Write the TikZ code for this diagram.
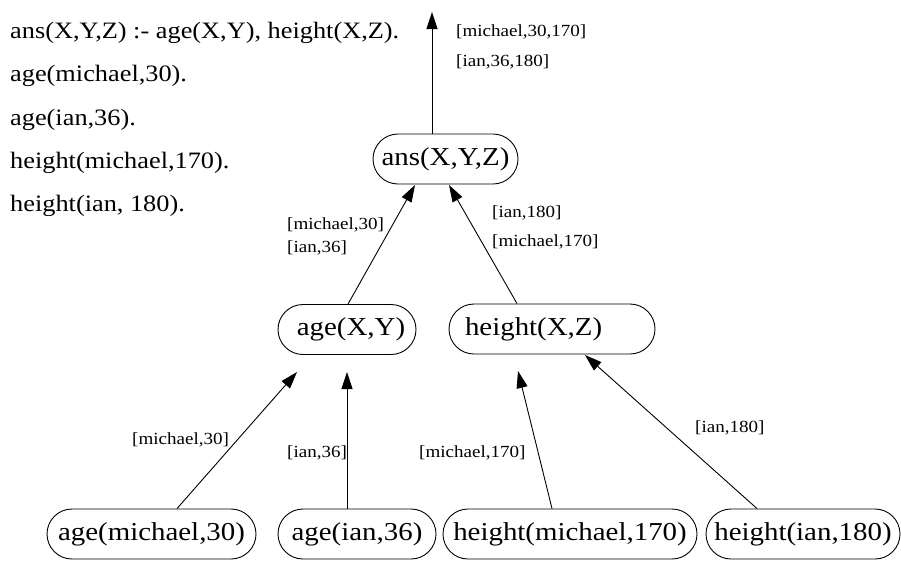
\documentclass[tikz,border=0pt]{standalone}
\usepackage{fontspec}
\setmainfont{Liberation Serif}[FakeStretch=1.12]
\usetikzlibrary{arrows.meta}
\begin{document}
\begin{tikzpicture}[x=1pt,y=-1pt,
  every node/.style={font=\fontsize{25.8}{28}\selectfont},
  pred/.style={draw, line width=0.9pt, rounded corners=25pt, minimum height=50pt, inner xsep=0pt, inner ysep=0pt},
  lbl/.style={font=\fontsize{17}{19}\selectfont, anchor=west, inner sep=0pt},
  prog/.style={font=\fontsize{23.5}{26}\selectfont, anchor=base west, inner sep=0pt},
  arr/.style={line width=0.9pt, -{Triangle[length=17pt,width=11pt]}}]
\useasboundingbox (0,0) rectangle (901,560);
% program text
\node[prog] (p1) at (10,38) {ans(X,Y,Z) :- age(X,Y), height(X,Z).};
\node[prog] (p2) at (10,81.5) {age(michael,30).};
\node[prog] (p3) at (10,125) {age(ian,36).};
\node[prog] (p4) at (10,168) {height(michael,170).};
\node[prog] (p5) at (10,211.5) {height(ian, 180).};
% nodes
\node[pred, minimum width=145pt] (ans) at (445.5,159) {ans(X,Y,Z)};
\node[pred, minimum width=138pt] (axy) at (347,329.5) {\hspace{8pt}age(X,Y)};
\node[pred, text width=174pt, inner xsep=16pt, align=left] (hxz) at (552,329) {height(X,Z)};
\node[pred, minimum width=209pt] (amich) at (151.5,534) {age(michael,30)};
\node[pred, minimum width=158pt] (aian) at (357,534) {age(ian,36)\hspace{8pt}};
\node[pred, minimum width=254pt] (hmich) at (570,534) {height(michael,170)};
\node[pred, minimum width=194pt] (hian) at (803,534) {height(ian,180)};
% arrow tips
\coordinate (t0) at (432,12);
\coordinate (t1) at (415,185);
\coordinate (t2) at (449,185);
\coordinate (t3) at (297,372);
\coordinate (t4) at (347,372);
\coordinate (t5) at (518,371);
\coordinate (t6) at (585,355);
% edges
\draw[arr] ([xshift=-13.5pt]ans.north) -- (t0);
\draw[arr] ([xshift=1pt]axy.north) -- (t1);
\draw[arr] ([xshift=-35pt]hxz.north) -- (t2);
\draw[arr] ([xshift=25.5pt]amich.north) -- (t3);
\draw[arr] ([xshift=-10pt]aian.north) -- (t4);
\draw[arr] ([xshift=-18pt]hmich.north) -- (t5);
\draw[arr] ([xshift=-46pt]hian.north) -- (t6);
% labels
\node[lbl] (l1) at (456,32) {[michael,30,170]};
\node[lbl] (l2) at (456,62) {[ian,36,180]};
\node[lbl] (l3) at (287,225) {[michael,30]};
\node[lbl] (l4) at (287,248) {[ian,36]};
\node[lbl] (l5) at (492,213) {[ian,180]};
\node[lbl] (l6) at (492,242) {[michael,170]};
\node[lbl] (l7) at (132,440) {[michael,30]};
\node[lbl] (l8) at (287,453) {[ian,36]};
\node[lbl] (l9) at (419,453) {[michael,170]};
\node[lbl] (l10) at (695,428) {[ian,180]};
\end{tikzpicture}
\end{document}
